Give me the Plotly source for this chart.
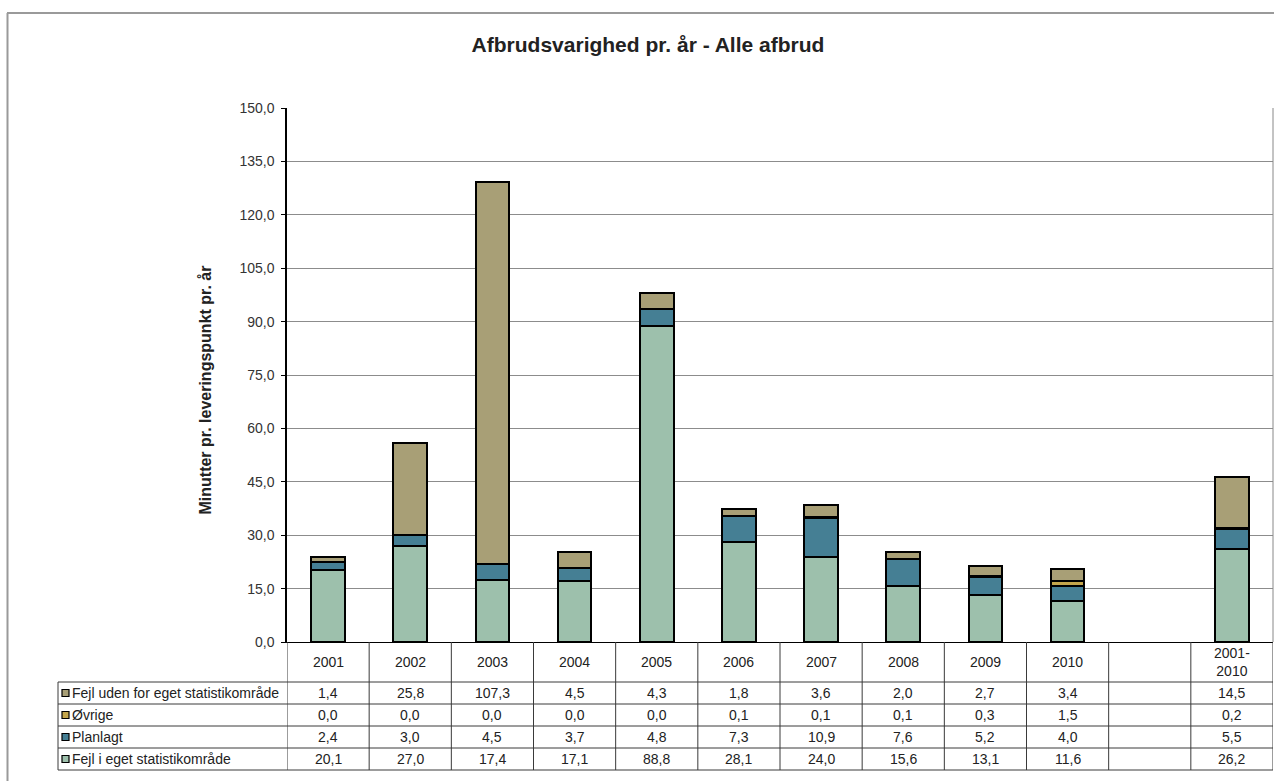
import plotly.graph_objects as go

# ---- data ----
categories = ["2001", "2002", "2003", "2004", "2005", "2006", "2007", "2008", "2009", "2010", "", "2001-<br>2010"]
fejl_uden = [1.4, 25.8, 107.3, 4.5, 4.3, 1.8, 3.6, 2.0, 2.7, 3.4, None, 14.5]
oevrige = [0.0, 0.0, 0.0, 0.0, 0.0, 0.1, 0.1, 0.1, 0.3, 1.5, None, 0.2]
planlagt = [2.4, 3.0, 4.5, 3.7, 4.8, 7.3, 10.9, 7.6, 5.2, 4.0, None, 5.5]
fejl_eget = [20.1, 27.0, 17.4, 17.1, 88.8, 28.1, 24.0, 15.6, 13.1, 11.6, None, 26.2]
y_ticks = [0, 15, 30, 45, 60, 75, 90, 105, 120, 135, 150]

colors = {
    "Fejl uden for eget statistikområde": "#A89F76",
    "Øvrige": "#C4A64C",
    "Planlagt": "#457F94",
    "Fejl i eget statistikområde": "#9DC0AC",
}

W, H = 1274, 781
L, R, T, B = 287, 1273, 108, 642
PW, PH = R - L, B - T
FONT = "Arial, Liberation Sans, sans-serif"


def px(x):
    return (x - L) / PW


def py(y):
    return (B - y) / PH


xs = list(range(len(categories)))
fig = go.Figure()
stack_order = [("Fejl i eget statistikområde", fejl_eget), ("Planlagt", planlagt),
               ("Øvrige", oevrige), ("Fejl uden for eget statistikområde", fejl_uden)]
for name, vals in stack_order:
    fig.add_trace(go.Bar(
        x=xs, y=vals, name=name, width=0.41,
        marker=dict(color=colors[name], line=dict(color="black", width=2)),
        showlegend=False,
    ))

shapes = []
annotations = []
line_col = "#3a3a3a"

# outer frame
shapes.append(dict(type="line", xref="paper", yref="paper", x0=px(7), x1=px(1274), y0=py(13), y1=py(13),
                   line=dict(color="#9a9a9a", width=2)))
shapes.append(dict(type="line", xref="paper", yref="paper", x0=px(7.5), x1=px(7.5), y0=py(13), y1=py(781),
                   line=dict(color="#9a9a9a", width=2)))
# plot right border
shapes.append(dict(type="line", xref="paper", yref="paper", x0=1, x1=1, y0=0, y1=1,
                   line=dict(color="#888888", width=1)))

# table row lines
row_lines = [682, 704, 726, 748, 770]
for i, yy in enumerate(row_lines):
    shapes.append(dict(type="line", xref="paper", yref="paper", x0=px(58), x1=1, y0=py(yy), y1=py(yy),
                       line=dict(color=line_col, width=1)))
# table vertical lines
for k in range(len(categories) + 1):
    shapes.append(dict(type="line", xref="x", yref="paper", x0=k - 0.5, x1=k - 0.5, y0=0, y1=py(770),
                       line=dict(color=line_col, width=1)))
shapes.append(dict(type="line", xref="paper", yref="paper", x0=px(58), x1=px(58), y0=py(682), y1=py(770),
                   line=dict(color=line_col, width=1)))

TFS = 14
# header years
for k, c in enumerate(categories):
    if c:
        annotations.append(dict(x=k, y=py(662), xref="x", yref="paper", text=c, showarrow=False,
                                font=dict(family=FONT, size=TFS, color="#222"), xanchor="center", yanchor="middle"))

# table rows
rows = [("Fejl uden for eget statistikområde", fejl_uden), ("Øvrige", oevrige),
        ("Planlagt", planlagt), ("Fejl i eget statistikområde", fejl_eget)]
for r, (name, vals) in enumerate(rows):
    ymid = (row_lines[r] + row_lines[r + 1]) / 2
    # legend key
    shapes.append(dict(type="rect", xref="paper", yref="paper", x0=px(62), x1=px(69), y0=py(ymid - 3.5),
                       y1=py(ymid + 3.5), fillcolor=colors[name], line=dict(color="black", width=1.2)))
    annotations.append(dict(x=px(70), y=py(ymid), xref="paper", yref="paper", text=name, showarrow=False,
                            font=dict(family=FONT, size=TFS, color="#222"), xanchor="left", yanchor="middle"))
    for k, v in enumerate(vals):
        if v is None:
            continue
        annotations.append(dict(x=k, y=py(ymid), xref="x", yref="paper", text=f"{v:.1f}".replace(".", ","),
                                showarrow=False, font=dict(family=FONT, size=TFS, color="#222"),
                                xanchor="center", yanchor="middle"))

# y-axis title
annotations.append(dict(x=px(205), y=py(517), xref="paper", yref="paper", text="<b>Minutter pr. leveringspunkt pr. år</b>",
                        showarrow=False, textangle=-90, font=dict(family=FONT, size=16, color="#222"),
                        xanchor="center", yanchor="bottom"))

fig.update_layout(
    width=W, height=H,
    margin=dict(l=L, r=W - R, t=T, b=H - B, pad=0),
    paper_bgcolor="white", plot_bgcolor="rgba(0,0,0,0)",
    barmode="stack", bargap=0,
    separators=",.",
    title=dict(text="<b>Afbrudsvarighed pr. år - Alle afbrud</b>", x=648 / W, xanchor="center",
               y=1 - 45 / H, yanchor="middle", font=dict(family=FONT, size=21, color="#222")),
    xaxis=dict(range=[-0.5, len(categories) - 0.5], showticklabels=False, ticks="", showgrid=False,
               zeroline=False, showline=True, linecolor="black", linewidth=1),
    yaxis=dict(range=[0, 150], tickvals=y_ticks, tickformat=".1f", showgrid=True, gridcolor="#8c8c8c",
               gridwidth=1, zeroline=False, showline=True, linecolor="black", linewidth=1.5,
               ticks="outside", ticklen=4, tickcolor="black", ticklabelstandoff=4,
               tickfont=dict(family=FONT, size=14, color="#333")),
    shapes=shapes, annotations=annotations,
    font=dict(family=FONT),
)

fig.write_html("out.html")
